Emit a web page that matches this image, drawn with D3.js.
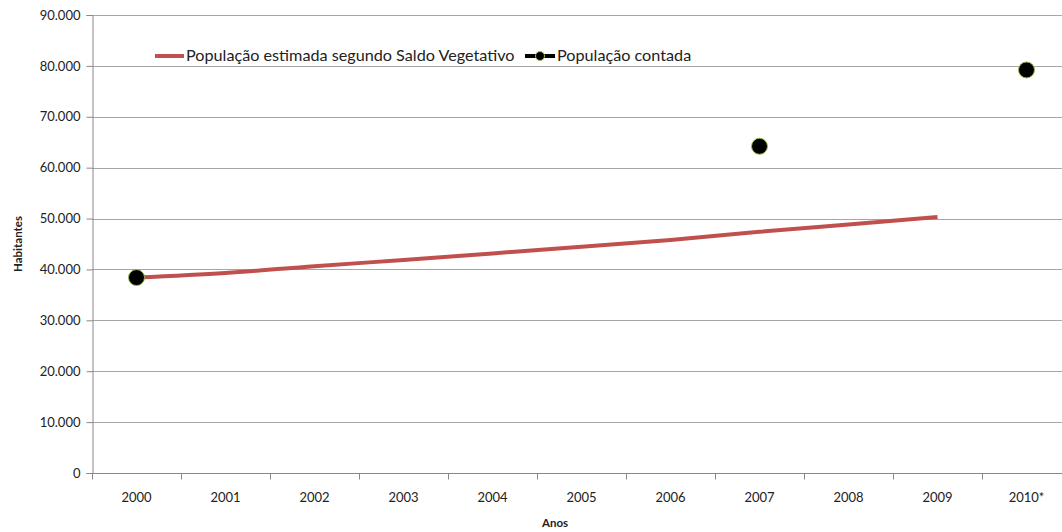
<!DOCTYPE html>
<html>
<head>
<meta charset="utf-8">
<script src="https://cdn.jsdelivr.net/npm/d3@7"></script>
<style>
  body { margin: 0; background: #fff; }
  svg { display: block; font-family: Lato, "Open Sans", sans-serif; }
</style>
</head>
<body>
<svg id="chart" width="1062" height="532"></svg>
<script>
// categories and series
var years = ["2000", "2001", "2002", "2003", "2004", "2005", "2006", "2007", "2008", "2009", "2010*"];
var estimated = [38400, 39300, 40650, 41850, 43150, 44450, 45800, 47400, 48850, 50300, null];
var counted = [38400, null, null, null, null, null, null, 64200, null, null, 79200];
var yTicks = [0, 10000, 20000, 30000, 40000, 50000, 60000, 70000, 80000, 90000];

var svg = d3.select("#chart");
var mLeft = 92, mRight = 1071, mTop = 15, mBottom = 473;

var x = d3.scaleBand().domain(years).range([mLeft, mRight]);
var y = d3.scaleLinear().domain([0, 90000]).range([mBottom, mTop]);
var fmt = function(v) { return d3.format(",")(v).replace(/,/g, "."); };

// grid
svg.append("g").selectAll("line.grid")
    .data(yTicks.slice(1))
    .join("line")
    .attr("class", "grid")
    .attr("x1", mLeft).attr("x2", mRight)
    .attr("y1", function(d) { return Math.round(y(d)) + 0.5; })
    .attr("y2", function(d) { return Math.round(y(d)) + 0.5; })
    .attr("stroke", "#a6a6a6").attr("stroke-width", 1);

// y axis
var yAxis = svg.append("g")
    .attr("transform", "translate(" + (mLeft + 0.5) + ",0)")
    .call(d3.axisLeft(y).tickValues(yTicks).tickFormat(fmt).tickSize(6).tickPadding(6));
yAxis.select(".domain").attr("stroke", "#888");
yAxis.selectAll(".tick line").attr("stroke", "#888");
yAxis.selectAll(".tick text").attr("font-size", 13).attr("fill", "#222")
    .attr("font-family", "Lato, 'Open Sans', sans-serif");

// x axis, ticks on band edges
var xAxis = svg.append("g")
    .attr("transform", "translate(0," + (Math.round(y(0)) + 0.5) + ")");
xAxis.append("line")
    .attr("x1", mLeft).attr("x2", mRight)
    .attr("stroke", "#888");
xAxis.selectAll("line.tk")
    .data(years)
    .join("line")
    .attr("class", "tk")
    .attr("x1", function(d) { return Math.round(x(d)) + 0.5; })
    .attr("x2", function(d) { return Math.round(x(d)) + 0.5; })
    .attr("y1", 0).attr("y2", 6)
    .attr("stroke", "#888");
xAxis.selectAll("text")
    .data(years)
    .join("text")
    .attr("x", function(d) { return x(d) + x.bandwidth() / 2; })
    .attr("y", 28)
    .attr("text-anchor", "middle")
    .attr("font-size", 13).attr("fill", "#222")
    .text(function(d) { return d; });

// axis titles
svg.append("text")
    .attr("transform", "translate(22," + ((mTop + mBottom) / 2) + ") rotate(-90)")
    .attr("text-anchor", "middle")
    .attr("font-size", 11.5).attr("font-weight", "bold").attr("fill", "#222")
    .text("Habitantes");
svg.append("text")
    .attr("x", 555).attr("y", 527)
    .attr("text-anchor", "middle")
    .attr("font-size", 11.5).attr("font-weight", "bold").attr("fill", "#222")
    .text("Anos");

// estimated line
var cx = function(d, i) { return x(years[i]) + x.bandwidth() / 2; };
var line = d3.line()
    .defined(function(d) { return d !== null; })
    .x(cx)
    .y(function(d) { return y(d); })
    .curve(d3.curveMonotoneX);
svg.append("path")
    .datum(estimated)
    .attr("d", line)
    .attr("fill", "none")
    .attr("stroke", "#c0504d")
    .attr("stroke-width", 4)
    .attr("stroke-linecap", "butt");

// counted points
svg.append("g").selectAll("circle")
    .data(counted.map(function(v, i) { return { v: v, i: i }; })
        .filter(function(d) { return d.v !== null; }))
    .join("circle")
    .attr("cx", function(d) { return cx(d.v, d.i); })
    .attr("cy", function(d) { return y(d.v); })
    .attr("r", 8)
    .attr("fill", "#000")
    .attr("stroke", "#9bbb59")
    .attr("stroke-width", 1);

// legend
var lg = svg.append("g");
lg.append("line")
    .attr("x1", 155).attr("x2", 184).attr("y1", 56).attr("y2", 56)
    .attr("stroke", "#c0504d").attr("stroke-width", 4);
lg.append("text")
    .attr("x", 186).attr("y", 61)
    .attr("font-size", 16.2).attr("fill", "#222")
    .text("População estimada segundo Saldo Vegetativo");
lg.append("line")
    .attr("x1", 525).attr("x2", 555).attr("y1", 56).attr("y2", 56)
    .attr("stroke", "#000").attr("stroke-width", 4);
lg.append("circle")
    .attr("cx", 540).attr("cy", 56).attr("r", 4.5)
    .attr("fill", "#000").attr("stroke", "#9bbb59").attr("stroke-width", 1);
lg.append("text")
    .attr("x", 557).attr("y", 61)
    .attr("font-size", 16.2).attr("fill", "#222")
    .text("População contada");
</script>
</body>
</html>
